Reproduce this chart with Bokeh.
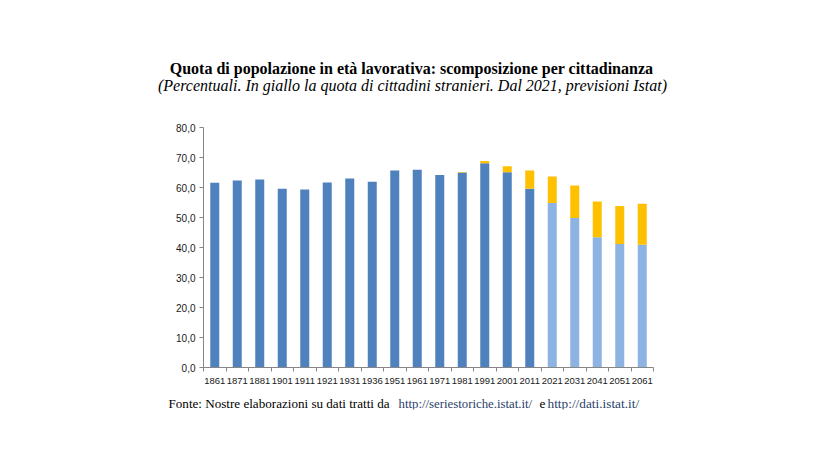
from bokeh.plotting import figure
from bokeh.models import Range1d, FixedTicker, Label, ColumnDataSource
from bokeh.embed import file_html
from bokeh.resources import INLINE

years = ["1861", "1871", "1881", "1901", "1911", "1921", "1931", "1936", "1951", "1961",
         "1971", "1981", "1991", "2001", "2011", "2021", "2031", "2041", "2051", "2061"]
italians = [61.6, 62.3, 62.7, 59.6, 59.3, 61.7, 63.0, 61.9, 65.7, 65.9,
            64.2, 65.0, 68.1, 65.1, 59.6, 54.8, 49.8, 43.4, 41.2, 40.9]
foreigners = [0.0, 0.0, 0.0, 0.0, 0.0, 0.0, 0.0, 0.0, 0.0, 0.0,
              0.0, 0.2, 0.7, 2.0, 6.1, 8.9, 10.9, 11.9, 12.6, 13.7]
forecast_from = "2021"
y_ticks = [0, 10, 20, 30, 40, 50, 60, 70, 80]

title_text = "Quota di popolazione in età lavorativa: scomposizione per cittadinanza"
subtitle_text = "(Percentuali. In giallo la quota di cittadini stranieri. Dal 2021, previsioni Istat)"
source_text = "Fonte: Nostre elaborazioni su dati tratti da"
link1 = "http://seriestoriche.istat.it/"
link_sep = "e"
link2 = "http://dati.istat.it/"

DARK = "#4F81BD"
LIGHT = "#8DB3E2"
YELLOW = "#FFC000"
LINK = "#2B3F6B"
AXIS = "#868686"

# canvas / frame geometry (pixels)
W, H = 803, 449
BL, BB = 50, 40                 # left / bottom borders
FW, FH = W - BL, H - BB         # frame size
AX_LEFT, AX_RIGHT = 203, 653    # where the category axis runs
AX_TOP, AX_BOTTOM = 127, 367    # where 80 and 0 sit

n = len(years)
ppx = (AX_RIGHT - AX_LEFT) / n
x0 = -(AX_LEFT - BL) / ppx
x1 = x0 + FW / ppx
ppy = (AX_BOTTOM - AX_TOP) / (y_ticks[-1] - y_ticks[0])
y1 = y_ticks[-1] + AX_TOP / ppy
y0 = y1 - FH / ppy

xs = [i + 0.5 for i in range(n)]
first_fc = years.index(forecast_from)
colors = [DARK if i < first_fc else LIGHT for i in range(n)]
tops = [a + b for a, b in zip(italians, foreigners)]
src = ColumnDataSource(dict(x=xs, ita=italians, tot=tops, color=colors))

p = figure(width=W, height=H, output_backend="svg", toolbar_location=None,
           x_range=Range1d(x0, x1), y_range=Range1d(y0, y1),
           min_border_left=BL, min_border_right=0,
           min_border_top=0, min_border_bottom=BB)
p.outline_line_color = None
p.xgrid.grid_line_color = None
p.ygrid.grid_line_color = None

p.vbar(x="x", bottom=0, top="ita", width=0.4, fill_color="color", line_color=None, source=src)
p.vbar(x="x", bottom="ita", top="tot", width=0.4, fill_color=YELLOW, line_color=None, source=src)

ya = p.yaxis[0]
ya.fixed_location = 0
ya.bounds = (y_ticks[0], y_ticks[-1])
ya.ticker = FixedTicker(ticks=y_ticks, minor_ticks=[])
ya.major_label_overrides = {t: f"{t},0" for t in y_ticks}
ya.axis_line_color = AXIS
ya.major_tick_line_color = AXIS
ya.major_tick_in = 0
ya.major_tick_out = 4
ya.minor_tick_line_color = None
ya.major_label_text_font = "Liberation Sans"
ya.major_label_text_font_size = "10px"
ya.major_label_text_color = "#1a1a1a"
ya.major_label_standoff = 4

xa = p.xaxis[0]
xa.fixed_location = 0
xa.bounds = (0, n)
xa.ticker = FixedTicker(ticks=xs, minor_ticks=list(range(n + 1)))
xa.major_label_overrides = {x: y for x, y in zip(xs, years)}
xa.axis_line_color = AXIS
xa.major_tick_line_color = None
xa.minor_tick_line_color = AXIS
xa.minor_tick_in = 0
xa.minor_tick_out = 4
xa.major_label_text_font = "Liberation Sans"
xa.major_label_text_font_size = "9.5px"
xa.major_label_text_color = "#1a1a1a"
xa.major_label_standoff = 4


def lab(px, py, text, size, style="normal", color="black", align="left"):
    # px, py: position on the canvas from its top-left corner
    p.add_layout(Label(x=px - BL, y=FH - py, x_units="screen", y_units="screen", text=text,
                       text_font="Liberation Serif", text_font_size=size,
                       text_font_style=style, text_color=color,
                       text_align=align, text_baseline="middle"))


lab(411, 68, title_text, "16px", "bold", align="center")
lab(412, 85, subtitle_text, "16px", "italic", align="center")
lab(168, 403, source_text, "13.1px")
lab(398, 403, link1, "12.8px", color=LINK)
lab(539, 403, link_sep, "13.2px")
lab(547, 403, link2, "13.3px", color=LINK)

open("out.html", "w").write(file_html(p, INLINE))
